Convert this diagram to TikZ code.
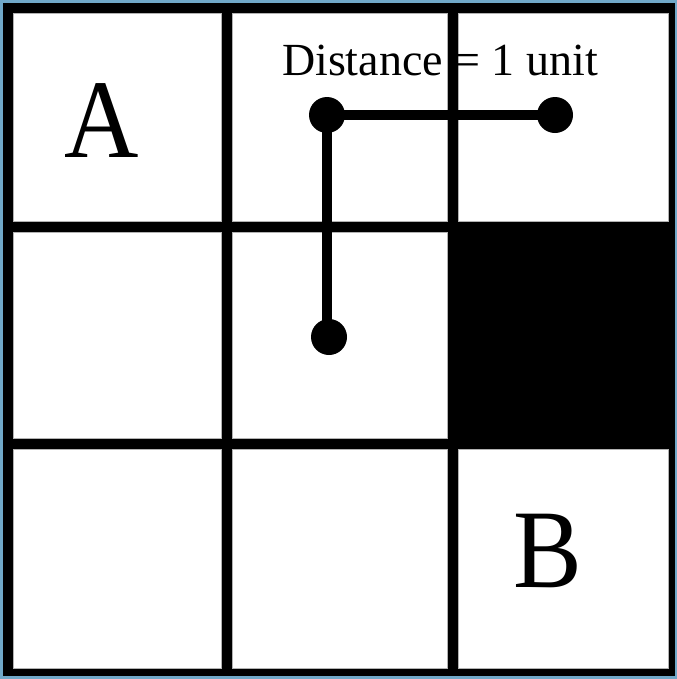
\documentclass[tikz,border=0pt]{standalone}
\usepackage{xcolor}
\usepackage{fontspec}
\setmainfont{Liberation Serif}
\usepackage{tikz}
\usetikzlibrary{positioning, calc}
\definecolor{frameblue}{RGB}{112, 168, 200}
\definecolor{gridblack}{RGB}{0, 0, 0}

\begin{document}
\begin{tikzpicture}[x=0.75pt, y=-0.75pt,
    cell/.style={fill=white, draw=gray!60, line width=0.4pt},
    dot/.style={circle, fill=gridblack, minimum size=27pt, inner sep=0pt},
    link/.style={draw=gridblack, line width=7.5pt},
    letter/.style={font=\fontsize{84}{84}\selectfont, inner sep=0pt}]
    \useasboundingbox (0,0) rectangle (677,679);
    % background and frame
    \fill[frameblue] (0,0) rectangle (677,679);
    \fill[gridblack] (3,3) rectangle (675,676);
    % white cells (the middle right one stays black)
    \foreach \xa/\xb in {13/221, 232/447, 458/668} {
        \foreach \ya/\yb in {13/221, 232/438, 449/668} {
            \ifnum\xa=458 \ifnum\ya=232 \else
                \draw[cell] (\xa,\ya) rectangle (\xb,\yb);
            \fi \else
                \draw[cell] (\xa,\ya) rectangle (\xb,\yb);
            \fi
        }
    }
    % labels
    \node[letter, xscale=0.92] (start) at (102,121) {A};
    \node[letter, xscale=0.92] (goal) at (548,551) {B};
    \node[font=\fontsize{34.5}{34.5}\selectfont, inner sep=0pt] (dist) at (440,60) {Distance = 1 unit};
    % distance markers
    \node[dot] (corner) at (327,115) {};
    \node[dot] (right) at (555,115) {};
    \node[dot] (down) at (329,337) {};
    \draw[link] (corner.center) -- (right.center);
    \draw[link] (corner.center) -- (corner.center |- down.center);
\end{tikzpicture}
\end{document}
